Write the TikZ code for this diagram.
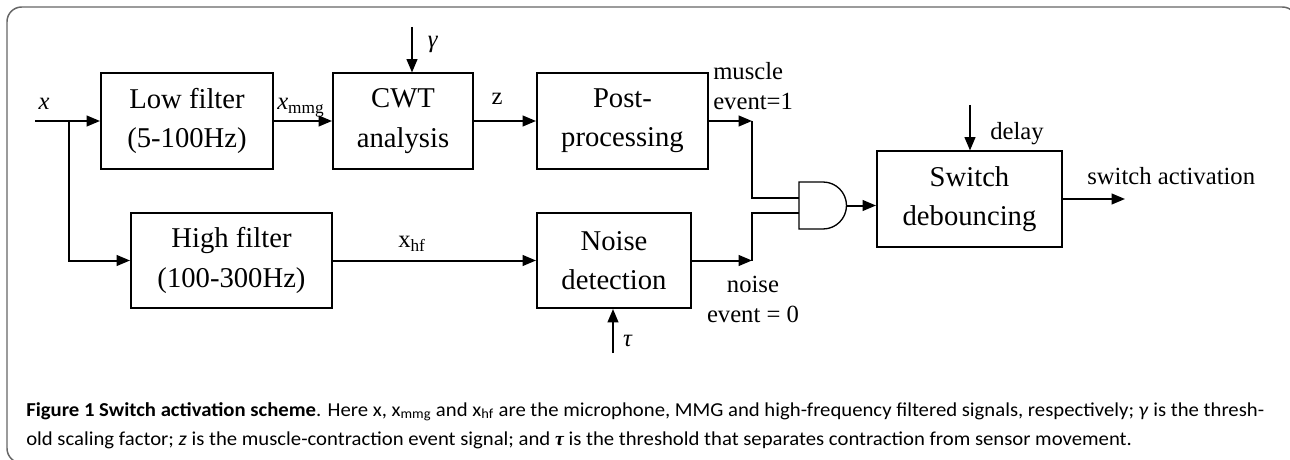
\documentclass[tikz,border=0pt]{standalone}
\usepackage{fontspec}
\setmainfont{Liberation Serif}
\newfontfamily\capfont[FakeStretch=1.05]{Carlito}
\usetikzlibrary{arrows.meta}

\begin{document}
\begin{tikzpicture}[x=0.75pt,y=-0.75pt,
    block/.style={draw,line width=1.5pt,inner sep=0pt,minimum height=71.25pt,
      align=center,font=\fontsize{21.5}{29.5}\selectfont},
    lbl/.style={inner sep=0pt,font=\fontsize{18.5}{22.5}\selectfont},
    sig/.style={line width=1.5pt},
    arr/.style={sig,-{Triangle[length=10pt,width=8pt]}},
    gate/.style={draw,line width=1pt},
    frame/.style={draw=black!60,line width=1.1pt,rounded corners=11pt},
    capline/.style={inner sep=0pt,anchor=base west,font=\capfont\fontsize{14.8}{17}\selectfont}]
    \useasboundingbox (0,0) rectangle (1290,460);

    % Frame of the figure
    \draw[frame] (22,463) -- (7,463) -- (7,7) -- (1297,7) -- (1297,22);

    % Blocks
    \node[block,minimum width=129pt] (lowf) at (187,121) {Low filter\\(5-100Hz)};
    \node[block,minimum width=105pt] (cwt) at (403,121) {CWT\\analysis};
    \node[block,minimum width=128.25pt] (post) at (622.5,121) {Post-\\processing};
    \node[block,minimum width=150.75pt] (highf) at (231.5,260.5) {High filter\\(100-300Hz)};
    \node[block,minimum width=115.5pt] (noise) at (614,260.5) {Noise\\detection};
    \node[block,minimum width=138.75pt] (switch) at (969.5,199) {Switch\\debouncing};

    % Free ends of the signals
    \coordinate (xin) at (35,121);
    \coordinate (br) at (69,121);
    \coordinate (gam) at (412,27);
    \coordinate (mtip) at (752,121);
    \coordinate (ntip) at (752,260.5);
    \coordinate (tau) at (613,353);
    \coordinate (del) at (970,105);
    \coordinate (sout) at (1125,199);

    % AND gate
    \coordinate (andin1) at (799,198);
    \coordinate (andin2) at (799,213);
    \coordinate (andout) at (846.5,205.5);
    \draw[gate] (799,182) -- (823,182) arc[start angle=-90,end angle=90,radius=23.5]
      -- (799,229) -- cycle;

    % Upper path
    \draw[arr] (xin) -- (lowf.west);
    \draw[arr] (lowf.east) -- (cwt.west);
    \draw[arr] (gam) -- (gam |- cwt.north);
    \draw[arr] (cwt.east) -- (post.west);
    \draw[arr] (post.east) -- (mtip);
    \draw[sig] (mtip) |- (andin1);

    % Lower path
    \draw[arr] (br) |- (highf.west);
    \draw[arr] (highf.east) -- (noise.west);
    \draw[arr] (tau) -- (tau |- noise.south);
    \draw[arr] (noise.east) -- (ntip);
    \draw[sig] (ntip) |- (andin2);

    % Output
    \draw[arr] (andout) -- (andout -| switch.west);
    \draw[arr] (del) -- (del |- switch.north);
    \draw[arr] (switch.east) -- (sout);

    % Signal labels
    \node[lbl,anchor=base] (xlab) at (44,110) {\textit{x}};
    \node[lbl,anchor=base west] (xmmg) at (277,110) {\textit{x}\textsubscript{mmg}};
    \node[lbl,anchor=base] (gamlab) at (433,48) {\textit{γ}};
    \node[lbl,anchor=base] (zlab) at (497,104) {z};
    \node[lbl,anchor=west,align=left] (mlab) at (713,86) {muscle\\event=1};
    \node[lbl,anchor=base west] (xhf) at (398,247) {x\textsubscript{hf}};
    \node[lbl,align=center] (nlab) at (753,299) {noise\\event = 0};
    \node[lbl,anchor=base] (taulab) at (628,346) {\textit{τ}};
    \node[lbl,anchor=base west] (dlab) at (990,140) {delay};
    \node[lbl,anchor=base west] (slab) at (1087,185) {switch activation};

    % Caption
    \node[capline] (cap1) at (26,416) {\textbf{Figure 1 Switch activation scheme}. Here x, x\textsubscript{mmg} and x\textsubscript{hf} are the microphone, MMG and high-frequency filtered signals, respectively; \textit{γ} is the thresh-};
    \node[capline] (cap2) at (26,445) {old scaling factor; \textit{z} is the muscle-contraction event signal; and {\fontspec{Liberation Serif}\bfseries\itshape τ} is the threshold that separates contraction from sensor movement.};
\end{tikzpicture}
\end{document}
